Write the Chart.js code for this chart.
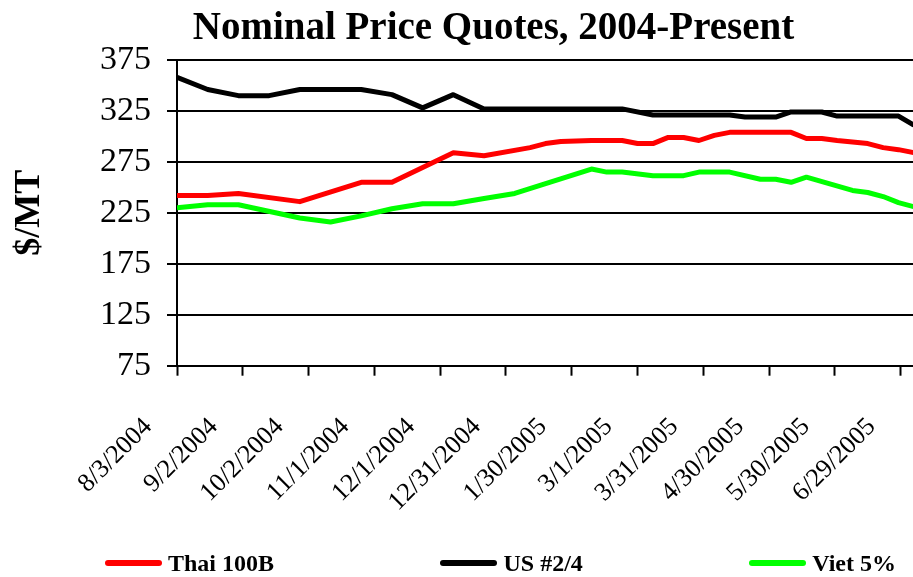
<!DOCTYPE html>
<html><head><meta charset="utf-8">
<script src="https://cdn.jsdelivr.net/npm/chart.js@4.4.1/dist/chart.umd.min.js"></script>
<style>
html,body{margin:0;padding:0;background:#fff;}
#wrap{position:relative;width:913px;height:577px;overflow:hidden;background:#fff;}
#legend{position:absolute;left:105px;top:549px;width:791px;height:28px;display:flex;justify-content:space-between;align-items:center;font-family:"Liberation Serif","Times New Roman",serif;font-weight:bold;font-size:24px;color:#000;}
.item{display:flex;align-items:center;white-space:nowrap;}
.swatch{display:inline-block;width:57px;height:6px;border-radius:3px;margin-right:6px;}
</style></head><body>
<div id="wrap"><canvas id="c" width="913" height="577"></canvas><div id="legend"></div></div>
<script>
// ---- data ----
const dates = [
 '8/3/2004','8/10/2004','8/17/2004','8/24/2004','8/31/2004','9/7/2004','9/14/2004','9/21/2004','9/28/2004',
 '10/5/2004','10/12/2004','10/19/2004','10/26/2004','11/2/2004','11/9/2004','11/16/2004','11/23/2004','11/30/2004',
 '12/7/2004','12/14/2004','12/21/2004','12/28/2004','1/4/2005','1/11/2005','1/18/2005','1/25/2005','2/1/2005',
 '2/8/2005','2/15/2005','2/22/2005','3/1/2005','3/8/2005','3/15/2005','3/22/2005','3/29/2005','4/5/2005',
 '4/12/2005','4/19/2005','4/26/2005','5/3/2005','5/10/2005','5/17/2005','5/24/2005','5/31/2005','6/7/2005',
 '6/14/2005','6/21/2005','6/28/2005','7/5/2005'
];
const thai100B = [242,242,242,null,244,null,null,null,236,null,null,null,255,255,255,null,null,null,
 284,null,281,null,null,289,293,295,null,296,296,296,293,293,299,299,296,301,
 304,304,304,304,304,298,298,296,null,293,289,287,284];
const us24 = [358,null,346,null,340,340,340,null,346,346,346,346,346,null,341,null,328,null,
 341,null,327,327,327,327,327,327,327,327,327,327,null,321,321,321,321,321,
 321,319,319,319,324,324,324,320,320,320,320,320,311];
const viet5 = [230,null,233,233,233,null,null,null,220,null,216,null,222,null,229,null,234,234,
 234,null,239,null,244,null,null,null,null,268,265,265,null,261.5,261.5,261.5,265,265,
 265,null,258,258,255,260,null,null,247,245,241,235,231];
const seriesNames = ['Thai 100B','US #2/4','Viet 5%'];
const seriesColors = ['#ff0000','#000000','#00ff00'];
const tickLabels = ['8/3/2004','9/2/2004','10/2/2004','11/1/2004','12/1/2004','12/31/2004','1/30/2005',
 '3/1/2005','3/31/2005','4/30/2005','5/30/2005','6/29/2005'];
const yMin = 75, yMax = 375, yStep = 50;

// ---- helpers ----
const DAY = 86400000;
function toDay(s){const p=s.split('/').map(Number);return Date.UTC(p[2],p[0]-1,p[1]);}
const t0 = toDay(tickLabels[0]);
const dayOf = s => (toDay(s)-t0)/DAY;
const xs = dates.map(dayOf);
const tickDays = tickLabels.map(dayOf);
const pts = vals => vals.map((v,i)=>({x:xs[i], y:v}));
const allSeries = [thai100B, us24, viet5];

const serif = '"Liberation Serif","Times New Roman",serif';

const shiftTitle = {
  id:'shiftTitle',
  afterLayout(chart){ const t = chart.titleBlock; if(t){ t.left += 37; t.right += 37; } }
};

const chart = new Chart(document.getElementById('c'), {
  type:'line',
  data:{
    datasets: allSeries.map((s,i)=>({
      label: seriesNames[i],
      data: pts(s),
      borderColor: seriesColors[i],
      backgroundColor: seriesColors[i],
      borderWidth: 5,
      pointRadius: 0,
      tension: 0,
      spanGaps: true,
      borderJoinStyle: 'round',
      fill: false
    }))
  },
  options:{
    responsive:false,
    animation:false,
    events:[],
    layout:{padding:0},
    plugins:{
      legend:{display:false},
      tooltip:{enabled:false},
      title:{
        display:true,
        text:'Nominal Price Quotes, 2004-Present',
        color:'#000',
        font:{family:serif, size:39, weight:'bold'},
        padding:{top:6, bottom:7.2}
      }
    },
    scales:{
      x:{
        type:'linear',
        min:0,
        max:335.6,
        afterBuildTicks(scale){ scale.ticks = tickDays.map(v=>({value:v})); },
        afterFit(scale){ scale.height = 211.3; scale.paddingLeft = 0; scale.paddingRight = 0; },
        ticks:{
          autoSkip:false,
          minRotation:45,
          maxRotation:45,
          padding:36,
          labelOffset:-29,
          color:'#000',
          font:{family:serif, size:26},
          callback:(v,i)=>tickLabels[i]
        },
        grid:{drawOnChartArea:false, drawTicks:true, tickLength:10, tickColor:'#000', tickWidth:2},
        border:{display:true, color:'#000', width:2}
      },
      y:{
        min:yMin,
        max:yMax,
        afterFit(scale){ scale.width = 177; },
        ticks:{
          stepSize:yStep,
          padding:16,
          color:'#000',
          font:{family:serif, size:34}
        },
        grid:{color:'#000', lineWidth:2, drawTicks:true, tickLength:10, tickColor:'#000', tickWidth:2},
        border:{display:true, color:'#000', width:2},
        title:{
          display:true,
          text:'$/MT',
          color:'#000',
          font:{family:serif, size:36, weight:'bold'},
          padding:{top:8, bottom:0}
        }
      }
    }
  },
  plugins:[shiftTitle]
});

// HTML legend built from the chart's datasets
const legendEl = document.getElementById('legend');
chart.data.datasets.forEach(ds=>{
  const item = document.createElement('div'); item.className='item';
  const sw = document.createElement('span'); sw.className='swatch'; sw.style.background = ds.borderColor;
  const tx = document.createElement('span'); tx.textContent = ds.label;
  item.appendChild(sw); item.appendChild(tx); legendEl.appendChild(item);
});
</script>
</body></html>
